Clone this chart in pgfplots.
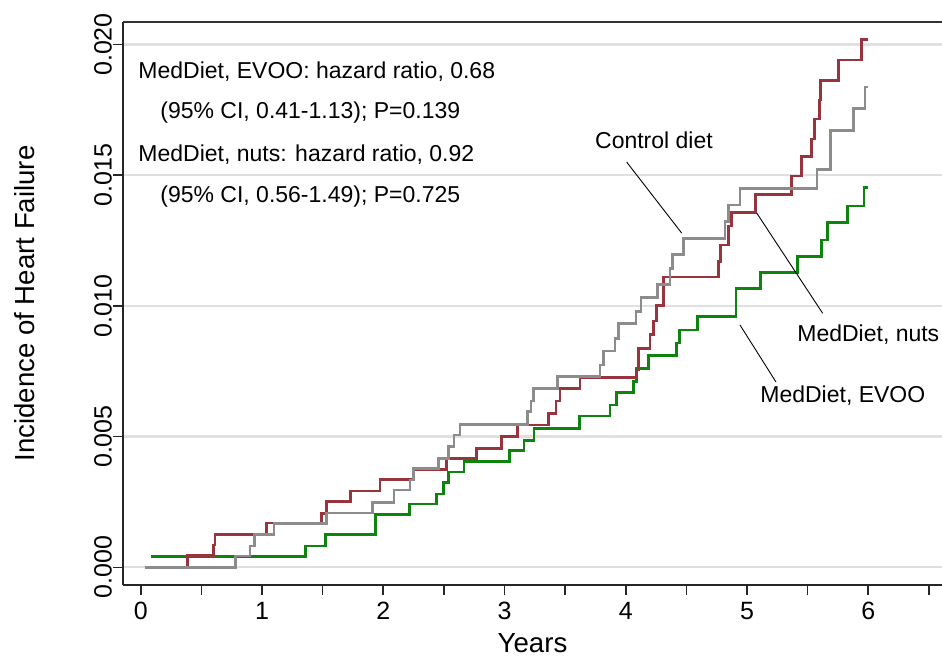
\documentclass[border=0pt]{standalone}
\usepackage{fontspec}
\setmainfont{Liberation Sans}
\usepackage{pgfplots}
\usepackage{pgfplotstable}
\pgfplotsset{compat=1.18}

\definecolor{cred}{RGB}{152,52,62}
\definecolor{cgray}{RGB}{140,140,140}
\definecolor{cgreen}{RGB}{14,132,14}
\definecolor{cgrid}{RGB}{224,224,224}

\pgfplotstableread{
x y
0.0825 0.000406
1.3606 0.000815
1.5255 0.001247
1.9378 0.002028
2.2149 0.002422
2.4408 0.002804
2.4953 0.003236
2.5398 0.003646
2.6660 0.004055
3.0395 0.004461
3.1607 0.004858
3.2432 0.005302
3.6167 0.005788
3.8699 0.006209
3.9251 0.006680
4.0620 0.007100
4.0901 0.007598
4.1857 0.008095
4.4199 0.008581
4.4413 0.009078
4.5898 0.009587
4.9089 0.010673
5.1126 0.011270
5.4144 0.011882
5.6156 0.012521
5.6618 0.013183
5.8267 0.013822
5.9644 0.014537
6.0000 0.014537
}\evoo

\pgfplotstableread{
x y
0.3843 0.000000
0.3843 0.000459
0.5987 0.000853
0.6127 0.001247
1.0390 0.001695
1.4926 0.002066
1.5338 0.002510
1.7317 0.002919
1.9733 0.003367
2.2479 0.003749
2.5233 0.004170
2.7707 0.004552
2.9768 0.005004
3.1071 0.005444
3.3611 0.005891
3.4246 0.006362
3.4576 0.006848
3.6225 0.007270
4.0901 0.007548
4.1074 0.008363
4.1997 0.008906
4.2269 0.009423
4.2517 0.010023
4.3127 0.011106
4.7629 0.011691
4.7827 0.012330
4.8487 0.013057
4.8734 0.013573
5.0697 0.014262
5.3640 0.014969
5.4506 0.015716
5.5331 0.016385
5.5562 0.017150
5.5958 0.017877
5.6073 0.018623
5.7566 0.019407
5.9454 0.020188
6.0000 0.020188
}\nuts

\pgfplotstableread{
x y
0.0355 0.000000
0.7817 0.000432
0.9013 0.000815
0.9384 0.001247
1.0992 0.001683
1.5338 0.002077
1.9131 0.002471
2.0887 0.002957
2.2207 0.003340
2.2479 0.003787
2.4540 0.004170
2.5365 0.004614
2.5835 0.005061
2.6330 0.005471
3.1896 0.005953
3.2185 0.006362
3.2391 0.006848
3.4353 0.007292
3.7874 0.007739
3.8146 0.008275
3.9111 0.008761
3.9383 0.009334
4.0843 0.009778
4.1255 0.010329
4.2616 0.010819
4.3647 0.011439
4.3869 0.011974
4.4743 0.012586
4.8182 0.013221
4.8454 0.013860
4.9419 0.014499
5.5769 0.015218
5.6899 0.016718
5.8762 0.017559
5.9727 0.018374
6.0000 0.018374
}\control

\begin{document}
\begin{tikzpicture}
\useasboundingbox (0,0) rectangle (471pt,329pt);
\begin{axis}[
  at={(61.5pt,36.5pt)}, anchor=south west,
  scale only axis, width=409.5pt, height=281.5pt,
  xmin=-0.146, xmax=6.608, ymin=-0.000677, ymax=0.02086,
  axis x line*=bottom, axis y line*=left,
  axis line style={black!85, line width=1pt},
  scaled y ticks=false, scaled x ticks=false,
  xtick={0,1,2,3,4,5,6},
  minor xtick={0.5,1.5,2.5,3.5,4.5,5.5,6.5},
  ytick={0,0.005,0.010,0.015,0.020},
  yticklabels={0.000,0.005,0.010,0.015,0.020},
  xticklabels={0,1,2,3,4,5,6},
  tick align=outside,
  major tick length=5pt, minor tick length=5pt,
  tick style={black!85, line width=0.8pt},
  ticklabel style={font=\fontsize{12.5}{14}\selectfont},
  yticklabel style={xshift=3pt, rotate=90, anchor=south},
  /pgf/number format/assume math mode=true,
  ymajorgrids, grid style={cgrid, line width=1.1pt},
  xlabel={Years}, ylabel={Incidence of Heart Failure},
  label style={font=\fontsize{13.8}{15}\selectfont},
  xlabel style={at={(0.5,0)}, anchor=center, yshift=-29pt},
  ylabel style={at={(0,0.5)}, anchor=center, yshift=49pt},
  clip=false,
]
\draw[black!80, line width=0.8pt] (rel axis cs:0,1) -- (rel axis cs:1,1);
\addplot[const plot, cgreen, line width=1.35pt] table[x=x,y=y] {\evoo};
\addplot[const plot, cred, line width=1.35pt] table[x=x,y=y] {\nuts};
\addplot[const plot, cgray, line width=1.35pt] table[x=x,y=y] {\control};

\begin{scope}[every node/.style={font=\fontsize{11.5}{13}\selectfont, inner sep=0pt}]
\node[anchor=west] at (axis cs:-0.022,0.018948) {MedDiet, EVOO: hazard ratio, 0.68};
\node[anchor=west] at (axis cs:0.159,0.017380) {(95\% CI, 0.41-1.13); P=0.139};
\node[anchor=west] at (axis cs:-0.022,0.015773) {MedDiet, nuts: hazard ratio, 0.92};
\node[anchor=west] at (axis cs:0.159,0.014166) {(95\% CI, 0.56-1.49); P=0.725};
\node at (axis cs:4.2327,0.016343) {Control diet};
\node[anchor=west] at (axis cs:5.4120,0.008887) {MedDiet, nuts};
\node[anchor=west] at (axis cs:5.1068,0.006553) {MedDiet, EVOO};
\end{scope}
\draw[black, line width=0.45pt] (axis cs:4.0076,0.015501) -- (axis cs:4.4612,0.012785);
\draw[black, line width=0.45pt] (axis cs:5.0796,0.013554) -- (axis cs:5.6238,0.009717);
\draw[black, line width=0.45pt] (axis cs:4.9420,0.009270) -- (axis cs:5.2388,0.007089);
\end{axis}
\end{tikzpicture}
\end{document}
